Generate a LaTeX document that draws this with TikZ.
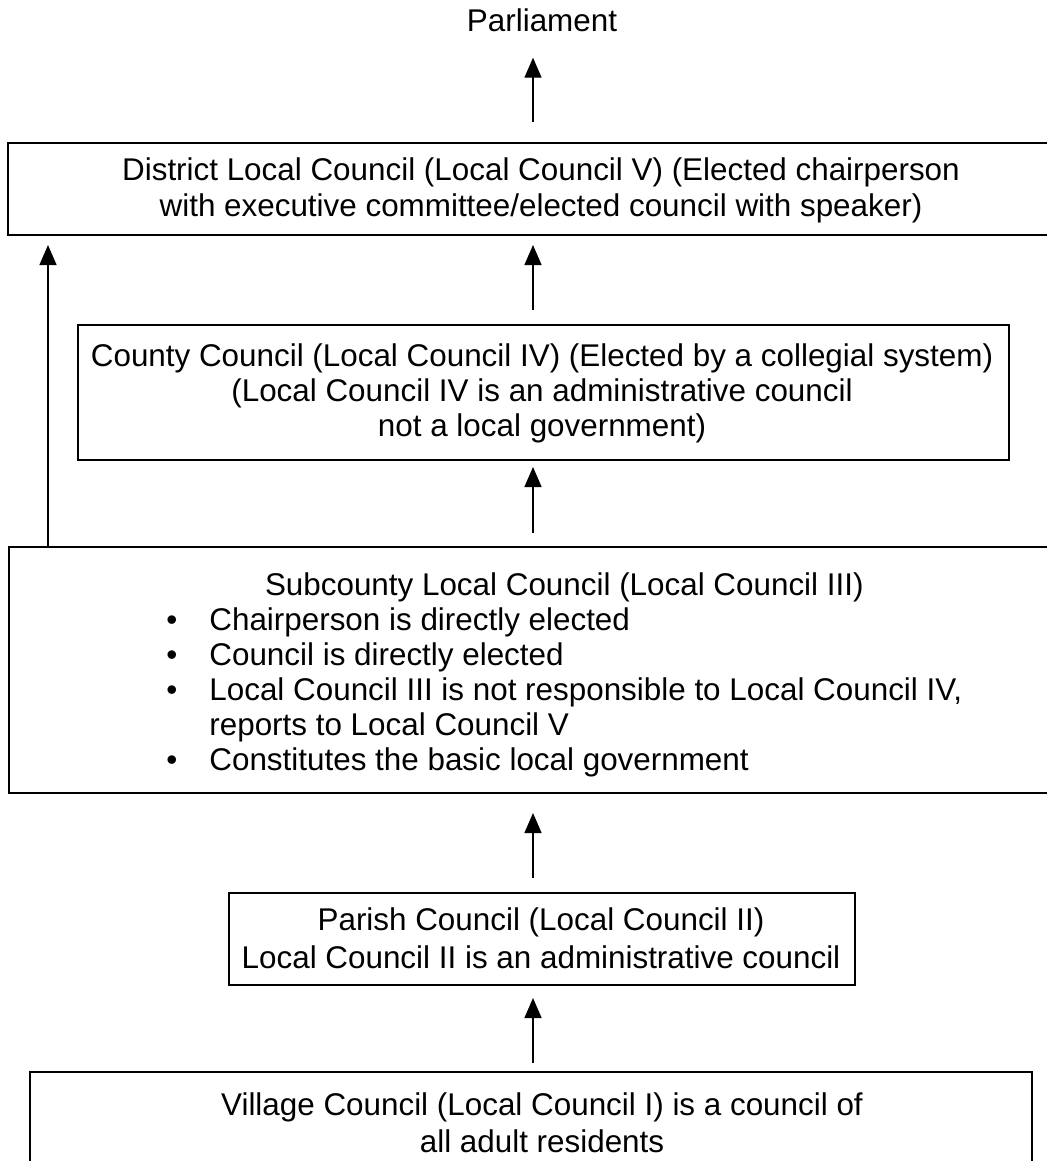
\documentclass[tikz,border=0pt]{standalone}
\usepackage{fontspec}
\setmainfont{Liberation Sans}
\usetikzlibrary{arrows.meta}
\begin{document}
\begin{tikzpicture}[x=0.5pt,y=-0.5pt,
  box/.style={draw=black,line width=1pt,inner sep=0pt,outer sep=0pt},
  txt/.style={align=center,inner sep=0pt,font=\fontsize{15.7}{18}\selectfont},
  up/.style={draw=black,line width=0.7pt,-{Triangle[length=10pt,width=8.5pt]}}
]
\useasboundingbox (0,0) rectangle (1047,1161);

% council boxes
\node[box,minimum width=533.5pt,minimum height=46pt] (district) at (541.5,189) {};
\node[box,minimum width=465.5pt,minimum height=67.5pt] (county) at (543.5,392.5) {};
\node[box,minimum width=533pt,minimum height=123pt] (sub) at (542,670) {};
\node[box,minimum width=313pt,minimum height=46pt] (parish) at (542,939) {};
\node[box,minimum width=501pt,minimum height=51.5pt] (village) at (531,1123.5) {};

% texts
\node[txt,anchor=base] (parl) at (542,32) {Parliament};
\node[txt] (districttext) at (541,190)
  {District Local Council (Local Council V) (Elected chairperson\\
   with executive committee/elected council with speaker)};
\node[txt,font=\fontsize{15.7}{17.5}\selectfont] (countytext) at (542,393)
  {County Council (Local Council IV) (Elected by a collegial system)\\
   (Local Council IV is an administrative council\\
   not a local government)};
\node[anchor=west,inner sep=0pt,font=\fontsize{15.7}{17.5}\selectfont] (subtext) at (166,676) {%
  \begin{tabular}{@{}p{21.5pt}@{}l@{}}
  \multicolumn{2}{@{}c@{}}{Subcounty Local Council (Local Council III)}\\
  \textbullet & Chairperson is directly elected\\
  \textbullet & Council is directly elected\\
  \textbullet & Local Council III is not responsible to Local Council IV,\\
              & reports to Local Council V\\
  \textbullet & Constitutes the basic local government
  \end{tabular}};
\node[txt,font=\fontsize{15.7}{19}\selectfont] (parishtext) at (541,938)
  {Parish Council (Local Council II)\\
   Local Council II is an administrative council};
\node[txt,font=\fontsize{15.7}{18.5}\selectfont] (villagetext) at (542,1123)
  {Village Council (Local Council I) is a council of\\
   all adult residents};

% upward connectors
\coordinate (ax) at (533,0);
\coordinate (lx) at (48,0);
\draw[up,shorten <=10.5pt,shorten >=12.5pt] (district.north -| ax) -- (parl.south -| ax);
\draw[up,shorten <=7.5pt,shorten >=5pt] (county.north -| ax) -- (district.south -| ax);
\draw[up,shorten <=7pt,shorten >=3.5pt] (sub.north -| ax) -- (county.south -| ax);
\draw[up,shorten <=7.5pt,shorten >=10pt] (parish.north -| ax) -- (sub.south -| ax);
\draw[up,shorten <=4.5pt,shorten >=6.5pt] (village.north -| ax) -- (parish.south -| ax);
\draw[up,shorten >=5pt] (sub.north -| lx) -- (district.south -| lx);
\end{tikzpicture}
\end{document}
